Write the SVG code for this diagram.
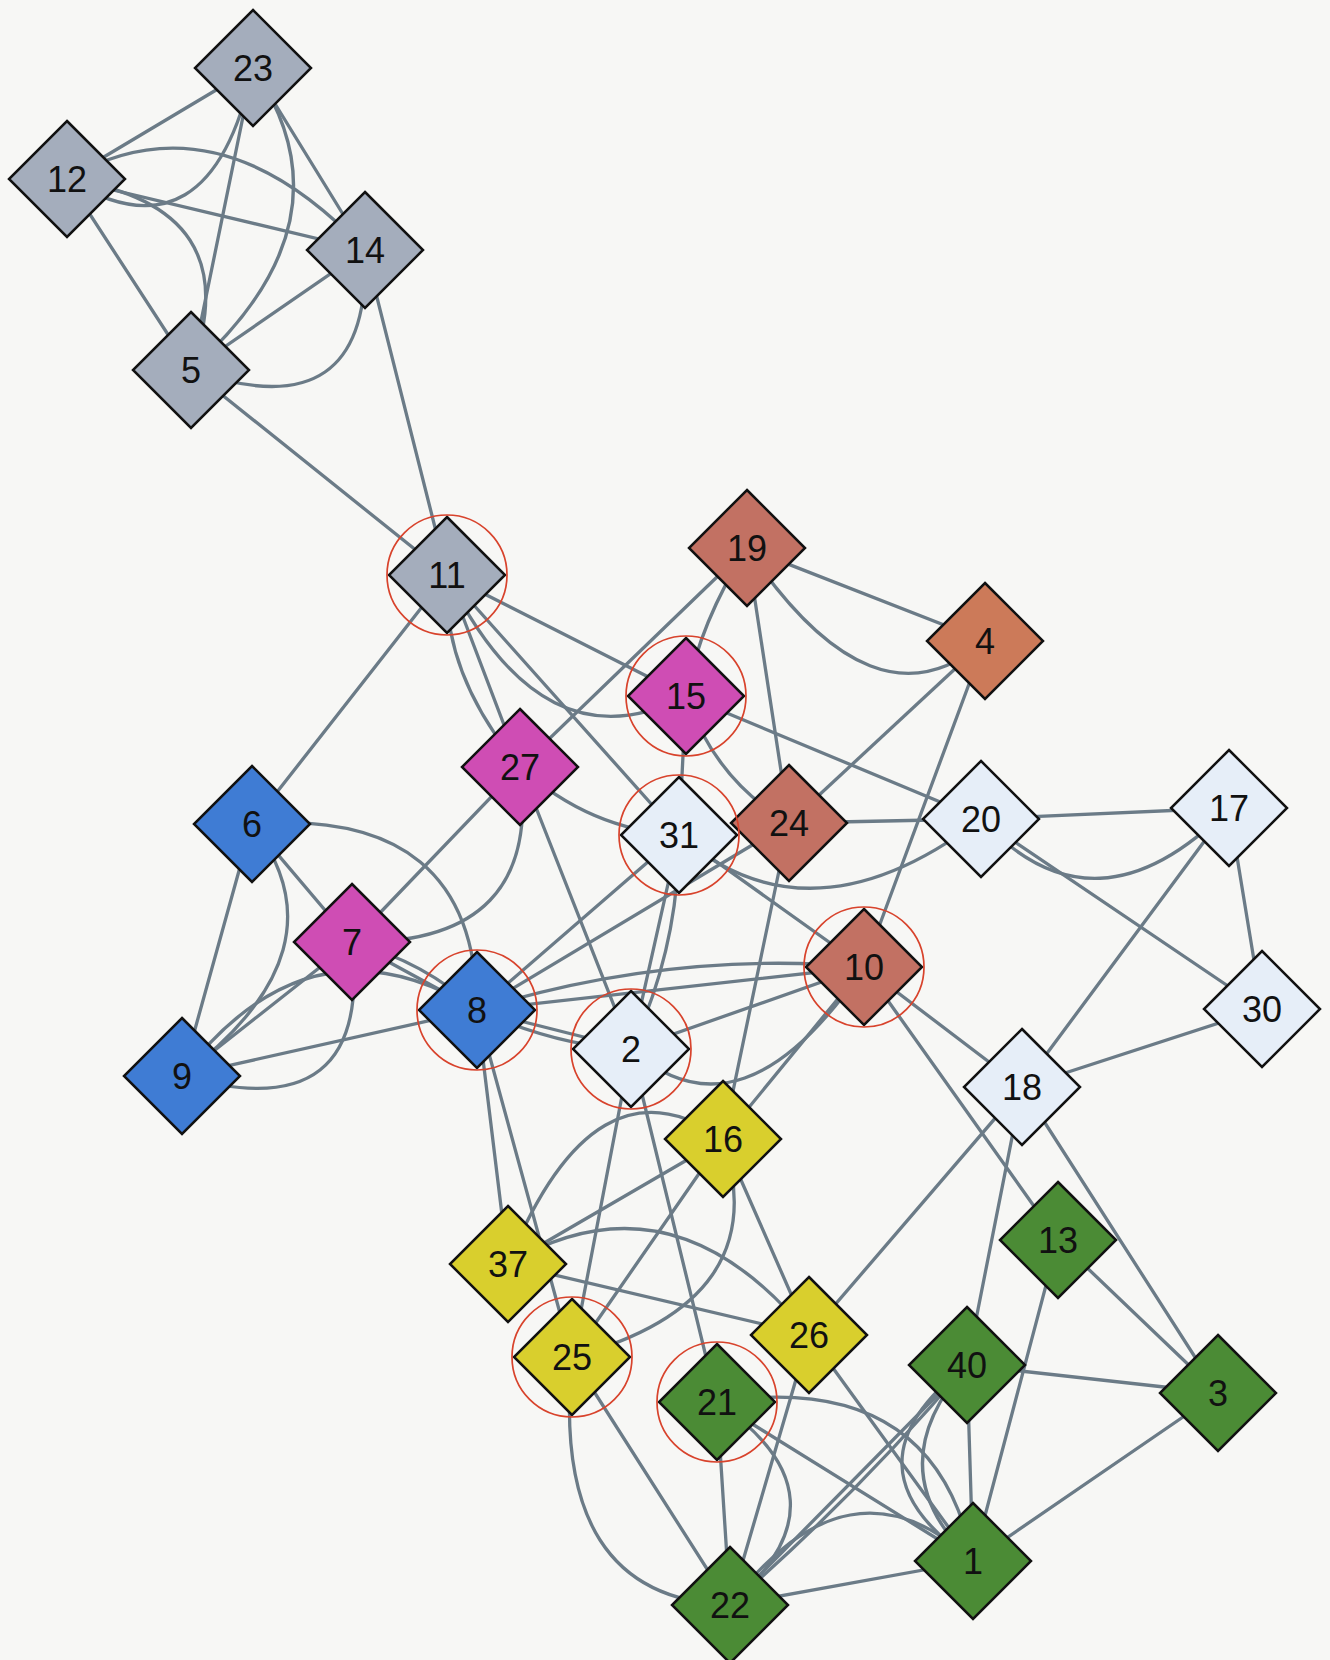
<svg xmlns="http://www.w3.org/2000/svg" xmlns:xlink="http://www.w3.org/1999/xlink" width="1330" height="1660" viewBox="0 0 1330 1660">
  <defs>
    <style>
      .bg { fill: #f7f7f5; }
      #edges path { fill: none; stroke: #6b7b87; stroke-width: 3.3; stroke-linecap: round; }
      .node use { stroke: #111; stroke-width: 2.5; stroke-linejoin: miter; }
      .gray { fill: #a4adbc; }
      .brown { fill: #c27163; }
      .orange { fill: #cc7a59; }
      .magenta { fill: #cf4db4; }
      .blue { fill: #3f7cd4; }
      .pale { fill: #e6eef8; }
      .yellow { fill: #d9cf2d; }
      .green { fill: #4b8b35; }
      .ring { fill: none; stroke: #d8432c; stroke-width: 1.7; }
      .lbl { font-family: "Liberation Sans", Arial, sans-serif; font-size: 36px; fill: #111; text-anchor: middle; }
    </style>
    <polygon id="dia" points="0,-58 58,0 0,58 -58,0"/>
  </defs>

  <rect class="bg" x="0" y="0" width="1330" height="1660"/>

  <g id="edges">
    <!-- grey cluster -->
    <path d="M67 179 L253 68"/>
    <path d="M67 179 Q210 266 253 68"/>
    <path d="M67 179 L365 250"/>
    <path d="M67 179 Q216 92 365 250"/>
    <path d="M67 179 L191 370"/>
    <path d="M67 179 Q251 206 191 370"/>
    <path d="M253 68 L191 370"/>
    <path d="M253 68 Q358 221 191 370"/>
    <path d="M253 68 L365 250"/>
    <path d="M365 250 L191 370"/>
    <path d="M365 250 Q372 434 191 370"/>
    <path d="M191 370 L447 575"/>
    <path d="M365 250 L447 575"/>
    <!-- from 11 -->
    <path d="M447 575 L252 824"/>
    <path d="M447 575 L520 767"/>
    <path d="M447 575 Q441 673 520 767"/>
    <path d="M447 575 L686 696"/>
    <path d="M447 575 Q543 770 686 696"/>
    <path d="M447 575 L679 835"/>
    <!-- from 19 / 4 -->
    <path d="M747 548 L520 767"/>
    <path d="M747 548 Q700 622 686 696"/>
    <path d="M747 548 L789 823"/>
    <path d="M747 548 L985 641"/>
    <path d="M747 548 Q874 737 985 641"/>
    <path d="M985 641 L789 823"/>
    <path d="M985 641 L864 967"/>
    <!-- from 15 / 27 -->
    <path d="M686 696 L679 835"/>
    <path d="M686 696 Q716 781 789 823"/>
    <path d="M686 696 L981 819"/>
    <path d="M520 767 L352 942"/>
    <path d="M520 767 Q544 946 352 942"/>
    <path d="M520 767 Q590 830 679 835"/>
    <path d="M520 767 L631 1049"/>
    <!-- from 31 / 24 -->
    <path d="M679 835 L631 1049"/>
    <path d="M679 835 Q679 948 631 1049"/>
    <path d="M679 835 L477 1010"/>
    <path d="M679 835 L864 967"/>
    <path d="M679 835 Q810 949 981 819"/>
    <path d="M789 823 L981 819"/>
    <path d="M789 823 L723 1139"/>
    <path d="M789 823 L477 1010"/>
    <!-- right side -->
    <path d="M981 819 L1229 808"/>
    <path d="M981 819 Q1095 943 1229 808"/>
    <path d="M981 819 L1262 1009"/>
    <path d="M1229 808 L1262 1009"/>
    <path d="M1229 808 L1022 1087"/>
    <path d="M1262 1009 L1022 1087"/>
    <!-- from 10 -->
    <path d="M864 967 L477 1010"/>
    <path d="M477 1010 Q670 950 864 967"/>
    <path d="M864 967 L631 1049"/>
    <path d="M631 1049 Q742 1148 864 967"/>
    <path d="M864 967 L723 1139"/>
    <path d="M864 967 L1022 1087"/>
    <path d="M864 967 L1058 1240"/>
    <!-- blue / magenta group -->
    <path d="M252 824 L352 942"/>
    <path d="M252 824 L182 1076"/>
    <path d="M252 824 Q349 950 182 1076"/>
    <path d="M252 824 Q476 807 477 1010"/>
    <path d="M352 942 L182 1076"/>
    <path d="M352 942 Q373 1131 182 1076"/>
    <path d="M352 942 L477 1010"/>
    <path d="M352 942 Q425 962 477 1010"/>
    <path d="M182 1076 L477 1010"/>
    <path d="M182 1076 Q311 907 477 1010"/>
    <!-- from 8 / 2 -->
    <path d="M477 1010 L631 1049"/>
    <path d="M477 1010 Q560 1047 631 1049"/>
    <path d="M477 1010 L508 1264"/>
    <path d="M477 1010 L572 1357"/>
    <path d="M631 1049 L572 1357"/>
    <path d="M631 1049 L717 1402"/>
    <!-- yellow group -->
    <path d="M723 1139 L508 1264"/>
    <path d="M723 1139 Q595 1049 508 1264"/>
    <path d="M723 1139 L572 1357"/>
    <path d="M723 1139 Q777 1302 572 1357"/>
    <path d="M723 1139 L809 1335"/>
    <path d="M508 1264 L809 1335"/>
    <path d="M508 1264 Q672 1167 809 1335"/>
    <path d="M572 1357 L730 1605"/>
    <path d="M572 1357 Q549 1599 730 1605"/>
    <path d="M809 1335 L1022 1087"/>
    <path d="M809 1335 L730 1605"/>
    <path d="M809 1335 L973 1561"/>
    <!-- green group -->
    <path d="M717 1402 L730 1605"/>
    <path d="M717 1402 Q857 1497 730 1605"/>
    <path d="M717 1402 L973 1561"/>
    <path d="M717 1402 Q935 1369 973 1561"/>
    <path d="M1022 1087 L967 1365"/>
    <path d="M1022 1087 L1218 1393"/>
    <path d="M1058 1240 L1218 1393"/>
    <path d="M1058 1240 L973 1561"/>
    <path d="M967 1365 L1218 1393"/>
    <path d="M967 1365 L973 1561"/>
    <path d="M967 1365 Q834 1467 973 1561"/>
    <path d="M967 1365 Q875 1470 973 1561"/>
    <path d="M967 1365 L730 1605"/>
    <path d="M967 1365 Q856 1496 730 1605"/>
    <path d="M973 1561 L1218 1393"/>
    <path d="M973 1561 L730 1605"/>
    <path d="M730 1605 Q849 1447 973 1561"/>
  </g>

  <g id="nodes">
    <g id="node-23" class="node" transform="translate(253,68)"><use href="#dia" class="gray"/><text class="lbl" y="13">23</text></g>
    <g id="node-12" class="node" transform="translate(67,179)"><use href="#dia" class="gray"/><text class="lbl" y="13">12</text></g>
    <g id="node-14" class="node" transform="translate(365,250)"><use href="#dia" class="gray"/><text class="lbl" y="13">14</text></g>
    <g id="node-5" class="node" transform="translate(191,370)"><use href="#dia" class="gray"/><text class="lbl" y="13">5</text></g>
    <g id="node-11" class="node" transform="translate(447,575)"><use href="#dia" class="gray"/><text class="lbl" y="13">11</text><circle class="ring" r="60"/></g>
    <g id="node-19" class="node" transform="translate(747,548)"><use href="#dia" class="brown"/><text class="lbl" y="13">19</text></g>
    <g id="node-4" class="node" transform="translate(985,641)"><use href="#dia" class="orange"/><text class="lbl" y="13">4</text></g>
    <g id="node-15" class="node" transform="translate(686,696)"><use href="#dia" class="magenta"/><text class="lbl" y="13">15</text><circle class="ring" r="60"/></g>
    <g id="node-27" class="node" transform="translate(520,767)"><use href="#dia" class="magenta"/><text class="lbl" y="13">27</text></g>
    <g id="node-6" class="node" transform="translate(252,824)"><use href="#dia" class="blue"/><text class="lbl" y="13">6</text></g>
    <g id="node-24" class="node" transform="translate(789,823)"><use href="#dia" class="brown"/><text class="lbl" y="13">24</text></g>
    <g id="node-31" class="node" transform="translate(679,835)"><use href="#dia" class="pale"/><text class="lbl" y="13">31</text><circle class="ring" r="60"/></g>
    <g id="node-20" class="node" transform="translate(981,819)"><use href="#dia" class="pale"/><text class="lbl" y="13">20</text></g>
    <g id="node-17" class="node" transform="translate(1229,808)"><use href="#dia" class="pale"/><text class="lbl" y="13">17</text></g>
    <g id="node-7" class="node" transform="translate(352,942)"><use href="#dia" class="magenta"/><text class="lbl" y="13">7</text></g>
    <g id="node-10" class="node" transform="translate(864,967)"><use href="#dia" class="brown"/><text class="lbl" y="13">10</text><circle class="ring" r="60"/></g>
    <g id="node-8" class="node" transform="translate(477,1010)"><use href="#dia" class="blue"/><text class="lbl" y="13">8</text><circle class="ring" r="60"/></g>
    <g id="node-2" class="node" transform="translate(631,1049)"><use href="#dia" class="pale"/><text class="lbl" y="13">2</text><circle class="ring" r="60"/></g>
    <g id="node-30" class="node" transform="translate(1262,1009)"><use href="#dia" class="pale"/><text class="lbl" y="13">30</text></g>
    <g id="node-9" class="node" transform="translate(182,1076)"><use href="#dia" class="blue"/><text class="lbl" y="13">9</text></g>
    <g id="node-18" class="node" transform="translate(1022,1087)"><use href="#dia" class="pale"/><text class="lbl" y="13">18</text></g>
    <g id="node-16" class="node" transform="translate(723,1139)"><use href="#dia" class="yellow"/><text class="lbl" y="13">16</text></g>
    <g id="node-13" class="node" transform="translate(1058,1240)"><use href="#dia" class="green"/><text class="lbl" y="13">13</text></g>
    <g id="node-37" class="node" transform="translate(508,1264)"><use href="#dia" class="yellow"/><text class="lbl" y="13">37</text></g>
    <g id="node-26" class="node" transform="translate(809,1335)"><use href="#dia" class="yellow"/><text class="lbl" y="13">26</text></g>
    <g id="node-25" class="node" transform="translate(572,1357)"><use href="#dia" class="yellow"/><text class="lbl" y="13">25</text><circle class="ring" r="60"/></g>
    <g id="node-40" class="node" transform="translate(967,1365)"><use href="#dia" class="green"/><text class="lbl" y="13">40</text></g>
    <g id="node-21" class="node" transform="translate(717,1402)"><use href="#dia" class="green"/><text class="lbl" y="13">21</text><circle class="ring" r="60"/></g>
    <g id="node-3" class="node" transform="translate(1218,1393)"><use href="#dia" class="green"/><text class="lbl" y="13">3</text></g>
    <g id="node-1" class="node" transform="translate(973,1561)"><use href="#dia" class="green"/><text class="lbl" y="13">1</text></g>
    <g id="node-22" class="node" transform="translate(730,1605)"><use href="#dia" class="green"/><text class="lbl" y="13">22</text></g>
  </g>
</svg>
